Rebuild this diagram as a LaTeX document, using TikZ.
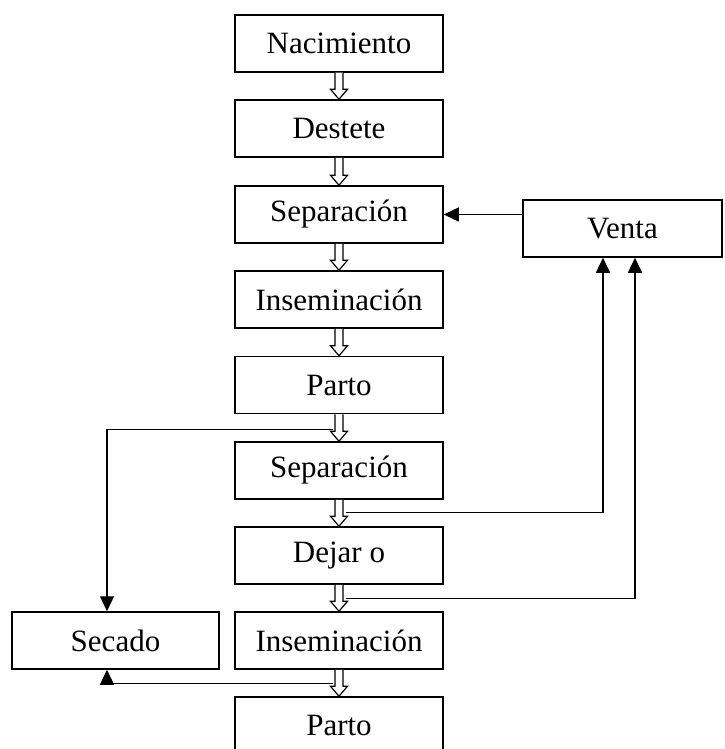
\documentclass[tikz,border=0pt]{standalone}
\usepackage{fontspec}
\setmainfont{Liberation Serif}
\usetikzlibrary{calc,arrows.meta}
\newcommand{\hollowarrow}[2]{%
  \draw[hollow] ($(#1.south)+(-4,0)$) -- ($(#2.north)+(-4,-10)$) -- ($(#2.north)+(-8.5,-10)$) -- (#2.north) -- ($(#2.north)+(8.5,-10)$) -- ($(#2.north)+(4,-10)$) -- ($(#1.south)+(4,0)$);}
\begin{document}
\begin{tikzpicture}[x=1pt,y=-1pt,
  box/.style={draw,line width=1.5pt,minimum height=57pt,inner sep=0pt,font=\fontsize{31}{36}\selectfont},
  mainbox/.style={box,minimum width=208pt},
  hollow/.style={line width=1.2pt,fill=white,line join=miter},
  conn/.style={line width=1.3pt,-{Triangle[length=15pt,width=14pt]}}]
\useasboundingbox (0,0) rectangle (724,749);
\node[mainbox] (nac) at (339,43.5) {Nacimiento};
\node[mainbox] (des) at (339,128.5) {Destete};
\node[mainbox] (sep) at (339,214.5) {Separación};
\node[mainbox] (ins) at (339,299.5) {Inseminación};
\node[mainbox] (par) at (339,385) {Parto};
\node[mainbox] (sepb) at (339,470.5) {Separación};
\node[mainbox] (dej) at (339,555.5) {Dejar o};
\node[mainbox] (insb) at (339,640.5) {Inseminación};
\node[mainbox] (parb) at (339,725.5) {Parto};
\node[box,minimum width=207pt] (sec) at (115.5,640.5) {Secado};
\node[box,minimum width=199pt] (ven) at (622.5,228.5) {Venta};
\hollowarrow{nac}{des}
\hollowarrow{des}{sep}
\hollowarrow{sep}{ins}
\hollowarrow{ins}{par}
\hollowarrow{par}{sepb}
\hollowarrow{sepb}{dej}
\hollowarrow{dej}{insb}
\hollowarrow{insb}{parb}
\draw[conn] (ven.west |- sep.east) -- (sep.east);
\coordinate (c1) at ($(par.south)+(-6,15)$);
\coordinate (c1t) at (107,0);
\draw[conn] (c1) -| (c1t |- sec.north);
\coordinate (c2) at ($(sepb.south)+(7,13)$);
\coordinate (c2t) at (603,0);
\draw[conn] (c2) -| (c2t |- ven.south);
\coordinate (c3) at ($(dej.south)+(7,14)$);
\coordinate (c3t) at (635,0);
\draw[conn] (c3) -| (c3t |- ven.south);
\coordinate (c4) at ($(insb.south)+(-6,14)$);
\draw[conn] (c4) -| (c1t |- sec.south);
\end{tikzpicture}
\end{document}
